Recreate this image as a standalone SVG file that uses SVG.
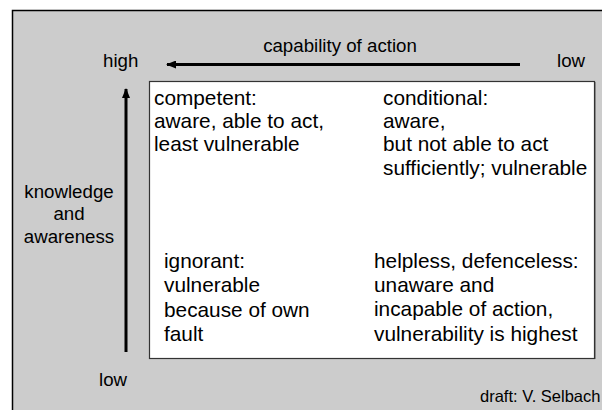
<svg xmlns="http://www.w3.org/2000/svg" width="602" height="410" viewBox="0 0 602 410">
<style>
text{font-family:"Liberation Sans",Arial,sans-serif;fill:#000}
.q{font-size:20.8px}
.l{font-size:18.7px}
.s{font-size:16.5px}
</style>
<defs>
<marker id="ah" markerWidth="10" markerHeight="8" refX="9" refY="4" orient="auto" markerUnits="userSpaceOnUse">
<path d="M0,0 L10,4 L0,8 Z" fill="#000"/>
</marker>
</defs>
<rect x="0" y="0" width="602" height="410" fill="#fff"/>
<rect id="background" x="12.5" y="10.5" width="600" height="410" fill="#cccccc" stroke="#000" stroke-width="1.5"/>
<g id="matrix">
<rect x="149.5" y="81.5" width="445" height="277" fill="#fff" stroke="#333" stroke-width="1.2"/>
<line x1="595.5" y1="82" x2="595.5" y2="359" stroke="#888" stroke-width="1"/>
</g>
<g id="connectors">
<line x1="520" y1="64.5" x2="167" y2="64.5" stroke="#000" stroke-width="3" marker-end="url(#ah)"/>
<line x1="126" y1="352" x2="126" y2="89" stroke="#000" stroke-width="3" marker-end="url(#ah)"/>
</g>
<g id="axis-labels">
<text class="l" x="103" y="67">high</text>
<text class="l" x="557" y="67">low</text>
<text class="l" x="340" y="52" text-anchor="middle">capability of action</text>
<text class="l" x="99" y="386">low</text>
<text class="l" x="69" y="198" text-anchor="middle">knowledge</text>
<text class="l" x="69" y="220" text-anchor="middle">and</text>
<text class="l" x="69" y="243" text-anchor="middle">awareness</text>
</g>
<g id="competent">
<text class="q" x="154" y="105">competent:</text>
<text class="q" x="154" y="128">aware, able to act,</text>
<text class="q" x="154" y="151">least vulnerable</text>
</g>
<g id="conditional">
<text class="q" x="383" y="105">conditional:</text>
<text class="q" x="383" y="128">aware,</text>
<text class="q" x="383" y="151">but not able to act</text>
<text class="q" x="383" y="175">sufficiently; vulnerable</text>
</g>
<g id="ignorant">
<text class="q" x="164" y="268">ignorant:</text>
<text class="q" x="164" y="292">vulnerable</text>
<text class="q" x="164" y="317">because of own</text>
<text class="q" x="164" y="341">fault</text>
</g>
<g id="helpless">
<text class="q" x="374" y="268">helpless, defenceless:</text>
<text class="q" x="374" y="292">unaware and</text>
<text class="q" x="374" y="316">incapable of action,</text>
<text class="q" x="374" y="341">vulnerability is highest</text>
</g>
<text class="s" x="480" y="402">draft: V. Selbach</text>
</svg>
